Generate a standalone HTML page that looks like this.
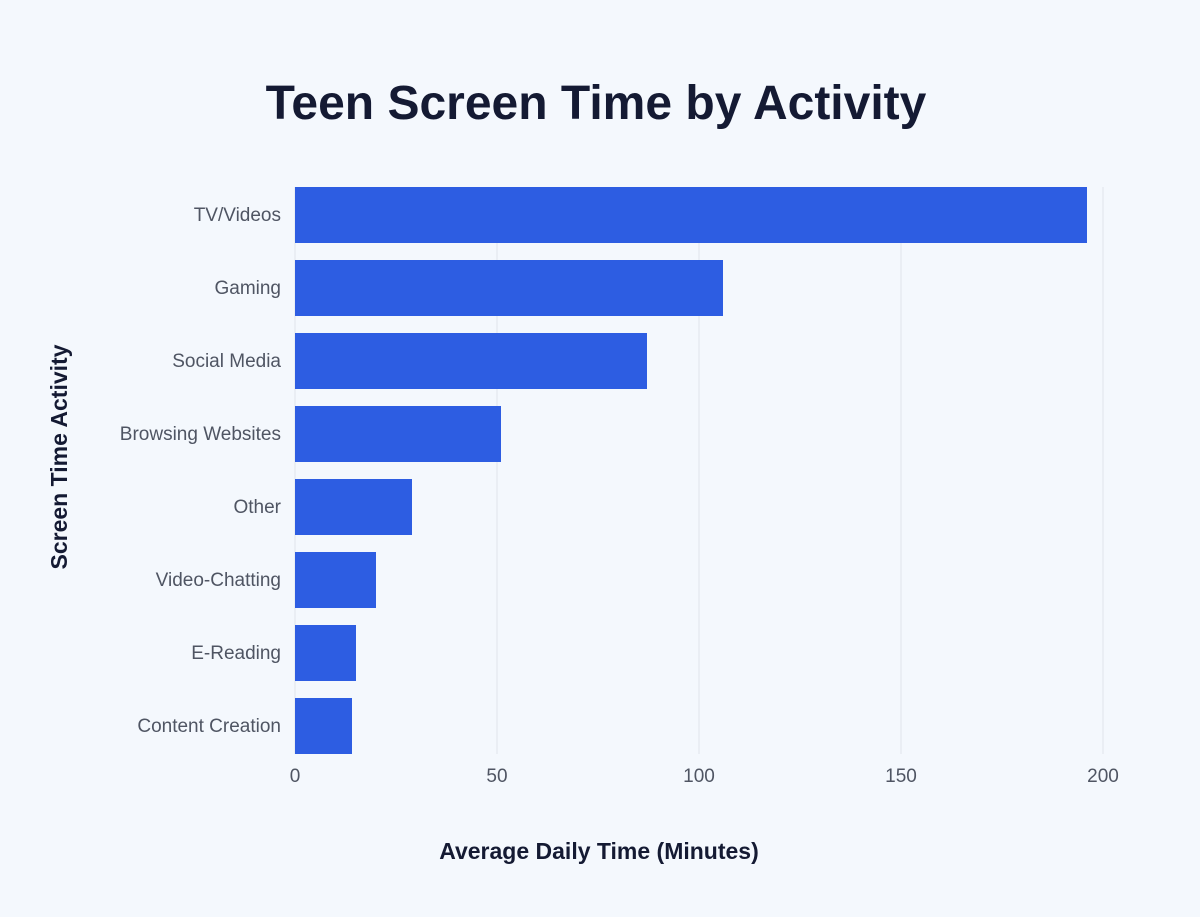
<!DOCTYPE html>
<html><head><meta charset="utf-8"><style>
body{margin:0;width:1200px;height:912px;background:#f4f8fd;font-family:"Liberation Sans",sans-serif;overflow:hidden}
</style></head><body>
<svg width="1200" height="912" xmlns="http://www.w3.org/2000/svg" font-family="Liberation Sans, sans-serif">
<rect width="1200" height="912" fill="#f4f8fd"/>
<text x="596" y="119" text-anchor="middle" font-size="48" font-weight="bold" fill="#141a33">Teen Screen Time by Activity</text>
<g stroke="#dfe4ea" stroke-width="1">
<line x1="497" y1="187" x2="497" y2="754"/>
<line x1="699" y1="187" x2="699" y2="754"/>
<line x1="901" y1="187" x2="901" y2="754"/>
<line x1="1103" y1="187" x2="1103" y2="754"/>
<line x1="295" y1="187" x2="295" y2="754"/>
</g>
<g fill="#2d5de2">
<rect x="295" y="187" width="792" height="56"/>
<rect x="295" y="260" width="428" height="56"/>
<rect x="295" y="333" width="352" height="56"/>
<rect x="295" y="406" width="206" height="56"/>
<rect x="295" y="479" width="117" height="56"/>
<rect x="295" y="552" width="81" height="56"/>
<rect x="295" y="625" width="61" height="56"/>
<rect x="295" y="698" width="57" height="56"/>
</g>
<g font-size="19" fill="#4f5563" text-anchor="end">
<text x="281" y="221">TV/Videos</text>
<text x="281" y="294">Gaming</text>
<text x="281" y="367">Social Media</text>
<text x="281" y="440">Browsing Websites</text>
<text x="281" y="513">Other</text>
<text x="281" y="586">Video-Chatting</text>
<text x="281" y="659">E-Reading</text>
<text x="281" y="732">Content Creation</text>
</g>
<g font-size="19" fill="#4f5563" text-anchor="middle">
<text x="295" y="782">0</text>
<text x="497" y="782">50</text>
<text x="699" y="782">100</text>
<text x="901" y="782">150</text>
<text x="1103" y="782">200</text>
</g>
<text x="599" y="859" text-anchor="middle" font-size="23" font-weight="bold" fill="#141a33">Average Daily Time (Minutes)</text>
<text transform="translate(67,457) rotate(-90)" text-anchor="middle" font-size="23" font-weight="bold" fill="#141a33">Screen Time Activity</text>
</svg>
</body></html>
